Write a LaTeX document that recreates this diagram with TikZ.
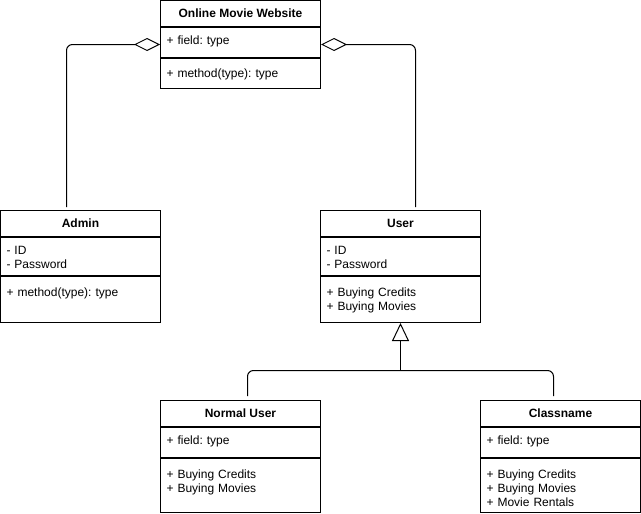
\documentclass[tikz,border=0pt]{standalone}
\usepackage{fontspec}
\setmainfont{Liberation Sans}
\frenchspacing
\usetikzlibrary{positioning,arrows.meta}

\begin{document}
\begin{tikzpicture}
  [x=1pt,y=-1pt,line width=1pt,
   every node/.style={draw,font=\fontsize{12}{14}\selectfont},
   head/.style={minimum width=160pt,minimum height=26pt,inner sep=0pt,font=\fontsize{12}{14}\selectfont\bfseries},
   part/.style={anchor=north,text width=148pt,inner xsep=6pt,inner ysep=0pt,align=left},
   attr/.style={part,text height=17pt,text depth=#1},
   meth/.style={part,text height=19.5pt,text depth=#1},
   agg/.style={rounded corners=6pt,-{Diamond[open,length=26pt,width=13pt]}},
   inh/.style={-{Triangle[open,length=18pt,width=17pt]}}]
  \useasboundingbox (-0.5,-0.5) rectangle (640.5,513.5);

  \node[head] (omw) at (240,13) {Online Movie Website};
  \node[attr=13pt] (omwf) [below=0pt of omw] {+ field: type};
  \node[meth=10.5pt] (omwm) [below=0pt of omwf] {+ method(type): type};

  \node[head] (adm) at (80,223) {Admin};
  \node[attr=21pt] (admf) [below=0pt of adm] {- ID\\- Password};
  \node[meth=26.5pt] (admm) [below=0pt of admf] {+ method(type): type};

  \node[head] (usr) at (400,223) {User};
  \node[attr=21pt] (usrf) [below=0pt of usr] {- ID\\- Password};
  \node[meth=26.5pt] (usrm) [below=0pt of usrf] {+ Buying Credits\\+ Buying Movies};

  \node[head] (nu) at (240,413) {Normal User};
  \node[attr=13pt] (nuf) [below=0pt of nu] {+ field: type};
  \node[meth=34.5pt] (num) [below=0pt of nuf] {+ Buying Credits\\+ Buying Movies};

  \node[head] (cn) at (560,413) {Classname};
  \node[attr=13pt] (cnf) [below=0pt of cn] {+ field: type};
  \node[meth=34.5pt] (cnm) [below=0pt of cnf] {+ Buying Credits\\+ Buying Movies\\+ Movie Rentals};

  \coordinate (join) at (400,370);

  \foreach \cls/\dx/\side in {adm/-14/west,usr/15/east}
    \draw[agg] ([xshift=\dx pt,yshift=3pt]\cls.north) |- ([yshift=-2pt]omwf.\side);
  \draw[inh] (join) -- (usrm.south);
  \foreach \cls/\dx in {nu/7,cn/-7}
    \draw[rounded corners=6pt] ([xshift=\dx pt,yshift=4pt]\cls.north) |- (join);
\end{tikzpicture}
\end{document}
